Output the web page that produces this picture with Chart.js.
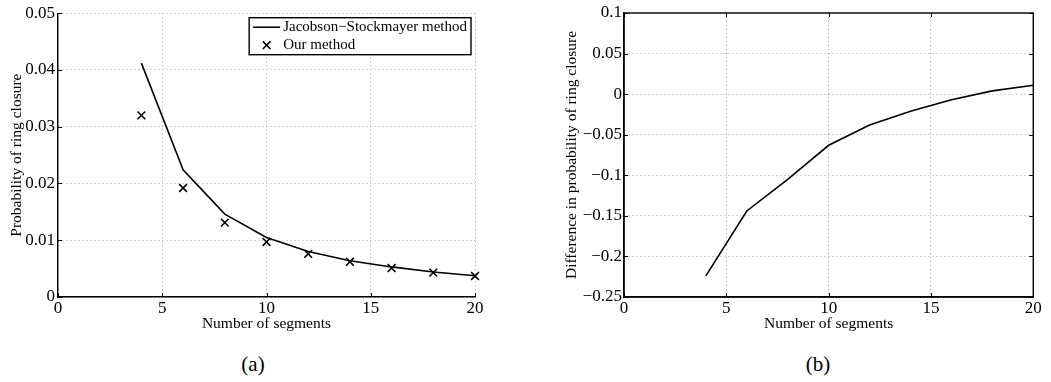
<!DOCTYPE html>
<html>
<head>
<meta charset="utf-8">
<script src="https://cdn.jsdelivr.net/npm/chart.js@4.4.0/dist/chart.umd.min.js"></script>
<style>
  body { margin: 0; background: #fff; width: 1051px; height: 382px; position: relative; overflow: hidden;
         font-family: 'Liberation Serif', 'Times New Roman', serif; color: #000; }
  canvas { position: absolute; top: 0; }
  #chartA { left: 0; }
  #chartB { left: 520px; }
  .caption { position: absolute; top: 352px; width: 60px; text-align: center; font-size: 21px; line-height: 24px; }
</style>
</head>
<body>
<canvas id="chartA" width="490" height="340"></canvas>
<canvas id="chartB" width="531" height="340"></canvas>
<div class="caption" style="left:223px">(a)</div>
<div class="caption" style="left:788px">(b)</div>
<script>
// number of segments in the ring
const segments = [4, 6, 8, 10, 12, 14, 16, 18, 20];
// probability of ring closure, Jacobson-Stockmayer
const jsProb = [0.0412, 0.0224, 0.0146, 0.0105, 0.0080, 0.0064, 0.0053, 0.0044, 0.00375];
// probability of ring closure, our method
const ourProb = [0.0320, 0.0192, 0.0131, 0.0097, 0.0076, 0.0062, 0.0051, 0.0043, 0.0037];
// relative difference between the two
const diffProb = [-0.224, -0.144, -0.105, -0.063, -0.038, -0.021, -0.007, 0.004, 0.011];

const xTicks = [0, 5, 10, 15, 20];
const yTicksA = [0, 0.01, 0.02, 0.03, 0.04, 0.05];
const yTicksB = [-0.25, -0.2, -0.15, -0.1, -0.05, 0, 0.05, 0.1];

Chart.defaults.font.family = "'Liberation Serif', 'Times New Roman', serif";
Chart.defaults.color = '#000';

const toXY = (xs, ys) => xs.map((x, i) => ({ x: x, y: ys[i] }));
const fmt = v => {
    const r = Math.round(v * 1000) / 1000;
    return (r < 0 ? '\u2212' : '') + String(Math.abs(r));
};

// matlab style tick marks pointing inwards, optional full box
const innerTicks = {
    id: 'innerTicks',
    afterDatasetsDraw(chart, args, opts) {
        const { ctx, chartArea: a, scales: { x, y } } = chart;
        const len = 4;
        ctx.save();
        ctx.strokeStyle = '#000';
        ctx.lineWidth = 1;
        ctx.beginPath();
        x.ticks.forEach(t => {
            const px = Math.round(x.getPixelForValue(t.value)) + 0.5;
            ctx.moveTo(px, a.bottom); ctx.lineTo(px, a.bottom - len);
            if (opts.box) { ctx.moveTo(px, a.top); ctx.lineTo(px, a.top + len); }
        });
        y.ticks.forEach(t => {
            const py = Math.round(y.getPixelForValue(t.value)) + 0.5;
            ctx.moveTo(a.left, py); ctx.lineTo(a.left + len, py);
            if (opts.box) { ctx.moveTo(a.right, py); ctx.lineTo(a.right - len, py); }
        });
        ctx.stroke();
        if (opts.box) {
            ctx.lineWidth = 1.4;
            ctx.strokeRect(a.left, a.top, a.right - a.left, a.bottom - a.top);
        }
        ctx.restore();
    }
};

// boxed legend in the upper right corner of the plot area
const boxLegend = {
    id: 'boxLegend',
    afterDraw(chart, args, opts) {
        if (!opts.show) return;
        const { ctx, chartArea: a } = chart;
        const sets = chart.data.datasets;
        ctx.save();
        ctx.font = "15px 'Liberation Serif', 'Times New Roman', serif";
        const textW = Math.max(...sets.map(d => ctx.measureText(d.label).width));
        const w = 34 + textW + 4;
        const h = 37;
        const left = a.right - 4 - w;
        const top = a.top + 4.5;
        ctx.fillStyle = '#fff';
        ctx.fillRect(left, top, w, h);
        ctx.strokeStyle = '#000';
        ctx.lineWidth = 1.4;
        ctx.strokeRect(left, top, w, h);
        const rows = [top + 9.5, top + 27.5];
        // line sample
        ctx.lineWidth = 1.6;
        ctx.beginPath();
        ctx.moveTo(left + 4, rows[0]); ctx.lineTo(left + 31, rows[0]);
        ctx.stroke();
        // marker sample
        const cx = left + 17.5, cy = rows[1], r = 3.8;
        ctx.beginPath();
        ctx.moveTo(cx - r, cy - r); ctx.lineTo(cx + r, cy + r);
        ctx.moveTo(cx - r, cy + r); ctx.lineTo(cx + r, cy - r);
        ctx.stroke();
        ctx.fillStyle = '#000';
        ctx.textBaseline = 'middle';
        sets.forEach((d, i) => ctx.fillText(d.label, left + 34, rows[i]));
        ctx.restore();
    }
};

function axisOpts(opts) {
    return {
        type: 'linear',
        min: opts.min,
        max: opts.max,
        afterBuildTicks: s => { s.ticks = opts.ticks.map(v => ({ value: v })); },
        afterFit: s => { if (opts.width) s.width = opts.width; if (opts.height) s.height = opts.height; },
        grid: { color: '#a8a8a8', lineWidth: 1, drawTicks: false },
        border: { display: true, color: '#000', width: 1.4, dash: [1, 3] },
        ticks: { font: { size: 17 }, padding: opts.pad, callback: v => fmt(v), autoSkip: false, maxRotation: 0 },
        title: { display: true, text: opts.title, font: { size: 15.5 }, padding: 0 }
    };
}

function baseOptions(padding, yAxis, box, legend) {
    return {
        responsive: false,
        animation: false,
        layout: { padding: padding },
        plugins: {
            legend: { display: false },
            tooltip: { enabled: false },
            innerTicks: { box: box },
            boxLegend: { show: legend }
        },
        scales: {
            x: axisOpts({ min: 0, max: 20, ticks: xTicks, height: 36, pad: 1, title: 'Number of segments' }),
            y: yAxis
        }
    };
}

new Chart(document.getElementById('chartA').getContext('2d'), {
    type: 'line',
    data: {
        datasets: [{
            label: 'Jacobson\u2212Stockmayer method',
            data: toXY(segments, jsProb),
            borderColor: '#000',
            borderWidth: 1.6,
            pointRadius: 0,
            tension: 0,
            clip: false
        }, {
            label: 'Our method',
            data: toXY(segments, ourProb),
            showLine: false,
            pointStyle: 'crossRot',
            pointRadius: 5.5,
            borderColor: '#000',
            pointBorderWidth: 1.6,
            clip: false
        }]
    },
    options: baseOptions({ left: 7.5, right: 15, top: 13, bottom: 7 },
        axisOpts({ min: 0, max: 0.05, ticks: yTicksA, width: 50.5, pad: 3, title: 'Probability of ring closure' }),
        false, true),
    plugins: [innerTicks, boxLegend]
});

new Chart(document.getElementById('chartB').getContext('2d'), {
    type: 'line',
    data: {
        datasets: [{
            label: 'Difference',
            data: toXY(segments, diffProb),
            borderColor: '#000',
            borderWidth: 1.6,
            pointRadius: 0,
            tension: 0
        }]
    },
    options: baseOptions({ left: 43, right: 17.7, top: 13, bottom: 7 },
        axisOpts({ min: -0.25, max: 0.1, ticks: yTicksB, width: 61, pad: 2, title: 'Difference in probability of ring closure' }),
        true, false),
    plugins: [innerTicks, boxLegend]
});
</script>
</body>
</html>
